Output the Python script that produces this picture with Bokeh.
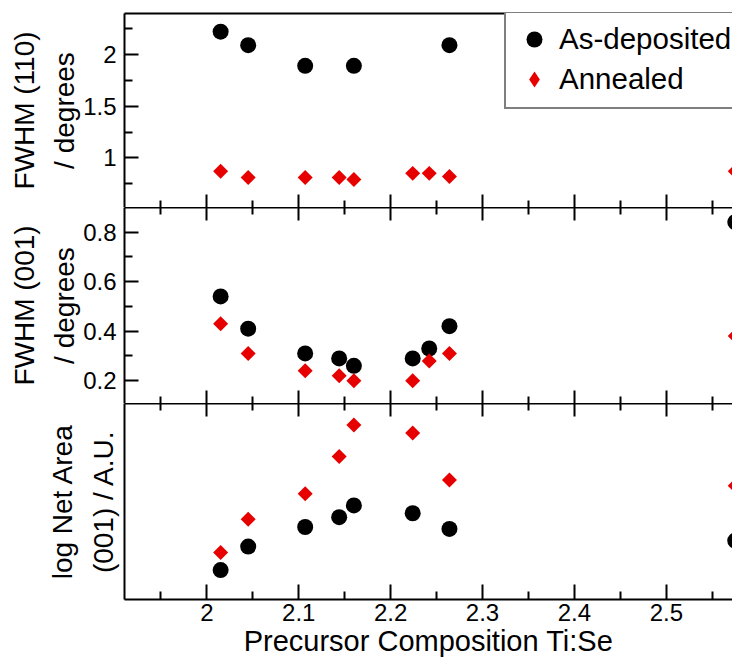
import math
from bokeh.plotting import figure
from bokeh.models import (LinearAxis, FixedTicker, CustomJSTickFormatter, Range1d,
                          Legend, LegendItem)
from bokeh.layouts import column
from bokeh.embed import file_html
from bokeh.resources import INLINE

# ---------------- data ----------------
x_major = [2.0, 2.1, 2.2, 2.3, 2.4, 2.5]
x_minor = [1.95, 2.05, 2.15, 2.25, 2.35, 2.45, 2.55]

# FWHM (110)
comp_dep_110 = [2.015, 2.045, 2.107, 2.160, 2.264]
fwhm110_dep = [2.22, 2.09, 1.89, 1.89, 2.09]
comp_ann_110 = [2.015, 2.045, 2.107, 2.144, 2.160, 2.224, 2.242, 2.264, 2.575]
fwhm110_ann = [0.87, 0.81, 0.81, 0.81, 0.79, 0.85, 0.85, 0.82, 0.87]
y110_major = [1.0, 1.5, 2.0]
y110_minor = [0.75, 1.25, 1.75, 2.25]

# FWHM (001)
comp_dep_001 = [2.015, 2.045, 2.107, 2.144, 2.160, 2.224, 2.242, 2.264, 2.575]
fwhm001_dep = [0.54, 0.41, 0.31, 0.29, 0.26, 0.29, 0.33, 0.42, 0.84]
comp_ann_001 = [2.015, 2.045, 2.107, 2.144, 2.160, 2.224, 2.242, 2.264, 2.575]
fwhm001_ann = [0.43, 0.31, 0.24, 0.22, 0.20, 0.20, 0.28, 0.31, 0.38]
y001_major = [0.2, 0.4, 0.6, 0.8]
y001_minor = [0.3, 0.5, 0.7]

# log net area (001), arbitrary units
comp_dep_area = [2.015, 2.045, 2.107, 2.144, 2.160, 2.224, 2.264, 2.575]
area_dep = [0.15, 0.27, 0.37, 0.42, 0.48, 0.44, 0.36, 0.30]
comp_ann_area = [2.015, 2.045, 2.107, 2.144, 2.160, 2.224, 2.264, 2.575]
area_ann = [0.24, 0.41, 0.54, 0.73, 0.89, 0.85, 0.61, 0.58]

# ---------------- style ----------------
FONT = "Liberation Sans"
RED = "#e60000"
TICK_FS = "24px"
XTICK_FS = "24px"
YLABEL_FS = "28px"
XLABEL_FS = "29px"
LEGEND_FS = "29.5px"

x_range = Range1d(1.9104, 2.572)
fmt = CustomJSTickFormatter(code="return String(parseFloat(tick.toFixed(3)));")


def base_fig(frame_h, y_start, y_end, top_border):
    p = figure(frame_width=608, frame_height=frame_h, x_range=x_range,
               y_range=Range1d(y_start, y_end), output_backend="svg",
               toolbar_location=None, x_axis_location=None,
               min_border_left=124, min_border_right=0,
               min_border_top=top_border, min_border_bottom=0)
    p.outline_line_color = None
    p.xgrid.visible = False
    p.ygrid.visible = False
    p.background_fill_color = "white"
    p.border_fill_color = "white"
    return p


def tick_axis(ticks, length, line):
    """Unlabelled axis that draws only inward ticks (as minor ticks)."""
    ax = LinearAxis(ticker=FixedTicker(ticks=[], minor_ticks=ticks))
    ax.major_tick_in = 0
    ax.major_tick_out = 0
    ax.minor_tick_in = length
    ax.minor_tick_out = 0
    ax.minor_tick_line_width = 2
    ax.minor_tick_line_color = "black"
    ax.axis_line_width = 2
    ax.axis_line_color = "black" if line else None
    ax.major_label_standoff = 0
    ax.axis_label_standoff = 0
    return ax


def boundary(p, side, line):
    p.add_layout(tick_axis(x_major, 13, line), side)
    p.add_layout(tick_axis(x_minor, 7, False), side)


def left_axis(ax, major, minor, label, standoff):
    ax.ticker = FixedTicker(ticks=major, minor_ticks=minor)
    ax.formatter = fmt
    ax.major_tick_in = 14
    ax.major_tick_out = 0
    ax.minor_tick_in = 8
    ax.minor_tick_out = 0
    ax.major_tick_line_width = 2
    ax.minor_tick_line_width = 2
    ax.axis_line_width = 2
    ax.major_tick_line_color = "black"
    ax.minor_tick_line_color = "black"
    ax.axis_line_color = "black"
    ax.major_label_text_font = FONT
    ax.major_label_text_font_size = TICK_FS
    ax.major_label_text_color = "black"
    ax.major_label_standoff = 8
    ax.axis_label = label
    ax.axis_label_text_font = FONT
    ax.axis_label_text_font_size = YLABEL_FS
    ax.axis_label_text_font_style = "normal"
    ax.axis_label_text_color = "black"
    ax.axis_label_text_line_height = 1.3
    ax.axis_label_standoff = standoff


CIRC = 16
SQ = 10.6   # side of the square turned 45 degrees (diamond)

# ---------------- panel 1 ----------------
p1 = base_fig(194, 0.52, 2.396, 13)
r_dep = p1.scatter(comp_dep_110, fwhm110_dep, marker="circle", size=CIRC,
                   fill_color="black", line_color=None)
p1.scatter(comp_ann_110, fwhm110_ann, marker="square", size=SQ,
           angle=math.pi / 4, fill_color=RED, line_color=None)
# legend proxy with a diamond glyph (legend ignores marker angle)
r_ann_leg = p1.scatter(comp_ann_110, fwhm110_ann, marker="diamond", size=SQ,
                       fill_color=RED, line_color=None, visible=False)
left_axis(p1.yaxis[0], y110_major, y110_minor, "FWHM (110)\n/ degrees", 0)
p1.add_layout(tick_axis([], 0, True), "above")
boundary(p1, "below", False)

legend = Legend(items=[LegendItem(label="As-deposited", renderers=[r_dep]),
                       LegendItem(label="Annealed", renderers=[r_ann_leg])],
                location=(380, 98))
legend.label_text_font = FONT
legend.label_text_font_size = LEGEND_FS
legend.label_text_color = "black"
legend.padding = 8
legend.spacing = 0
legend.margin = 0
legend.glyph_width = 40
legend.glyph_height = 40
legend.label_height = 40
legend.label_width = 230
legend.label_standoff = 5
legend.border_line_color = "black"
legend.border_line_width = 2
legend.background_fill_color = "white"
legend.background_fill_alpha = 1
p1.add_layout(legend)

# ---------------- panel 2 ----------------
p2 = base_fig(196, 0.108, 0.899, 0)
p2.scatter(comp_dep_001, fwhm001_dep, marker="circle", size=CIRC,
           fill_color="black", line_color=None)
p2.scatter(comp_ann_001, fwhm001_ann, marker="square", size=SQ,
           angle=math.pi / 4, fill_color=RED, line_color=None)
left_axis(p2.yaxis[0], y001_major, y001_minor, "FWHM (001)\n/ degrees", 0)
boundary(p2, "above", True)
boundary(p2, "below", False)

# ---------------- panel 3 ----------------
p3 = base_fig(196, 0.0, 1.0, 0)
p3.scatter(comp_dep_area, area_dep, marker="circle", size=CIRC,
           fill_color="black", line_color=None)
p3.scatter(comp_ann_area, area_ann, marker="square", size=SQ,
           angle=math.pi / 4, fill_color=RED, line_color=None)
left_axis(p3.yaxis[0], [], [], "log Net Area\n(001) / A.U.", 6)
boundary(p3, "above", True)

bx = LinearAxis(ticker=FixedTicker(ticks=x_major, minor_ticks=x_minor))
bx.formatter = fmt
bx.major_tick_in = 15
bx.major_tick_out = 0
bx.minor_tick_in = 8
bx.minor_tick_out = 0
bx.major_tick_line_width = 2
bx.minor_tick_line_width = 2
bx.axis_line_width = 2
bx.major_tick_line_color = "black"
bx.minor_tick_line_color = "black"
bx.axis_line_color = "black"
bx.major_label_text_font = FONT
bx.major_label_text_font_size = XTICK_FS
bx.major_label_text_color = "black"
bx.major_label_standoff = 4
bx.axis_label = "Precursor Composition Ti:Se"
bx.axis_label_text_font = FONT
bx.axis_label_text_font_size = XLABEL_FS
bx.axis_label_text_font_style = "normal"
bx.axis_label_text_color = "black"
bx.axis_label_standoff = 1
p3.add_layout(bx, "below")

layout = column(p1, p2, p3, spacing=0)

with open("out.html", "w") as f:
    f.write(file_html(layout, INLINE))
